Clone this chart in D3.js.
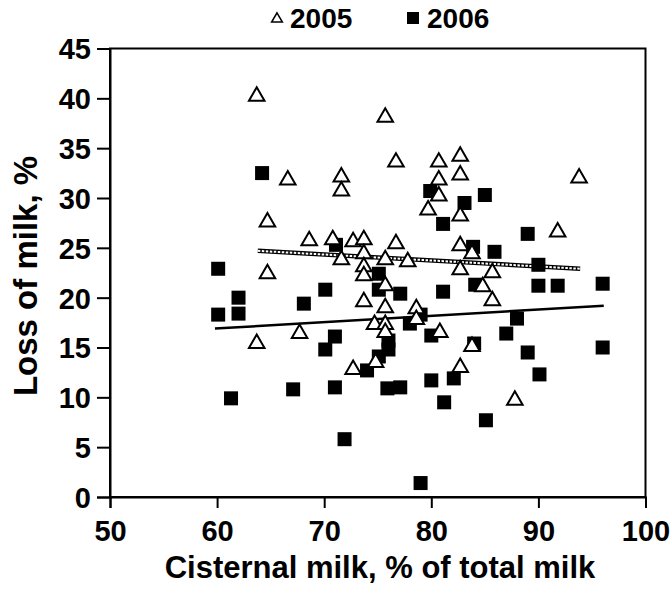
<!DOCTYPE html>
<html>
<head>
<meta charset="utf-8">
<script src="https://cdn.jsdelivr.net/npm/d3@7"></script>
<style>
  body { margin: 0; background: #fff; }
  text { font-family: "Liberation Sans", Arial, Helvetica, sans-serif; font-weight: bold; fill: #000; }
</style>
</head>
<body>
<svg width="672" height="589"></svg>
<script>

// 2005 (open triangles): cisternal milk %, loss of milk %
const x2005 = [63.7, 75.7, 76.7, 66.6, 71.6, 71.6, 64.7, 68.6, 70.8, 72.7,
               73.7, 76.7, 71.6, 73.7, 75.7, 77.8, 73.7, 73.7, 64.7, 75.7,
               73.7, 75.7, 78.6, 78.6, 74.7, 75.7, 75.7, 80.8, 67.7, 63.7,
               74.8, 72.7, 80.7, 82.7, 82.7, 80.7, 80.7, 79.7, 82.7, 93.8,
               91.8, 82.7, 83.8, 82.7, 85.7, 84.8, 85.7, 83.8, 82.7, 87.8];
const y2005 = [40.2, 38.1, 33.6, 31.8, 32.1, 30.7, 27.6, 25.7, 25.8, 25.6,
               25.8, 25.4, 23.8, 24.4, 23.8, 23.6, 23.1, 22.2, 22.4, 21.2,
               19.6, 19.0, 18.9, 17.8, 17.3, 17.3, 16.5, 16.5, 16.4, 15.4,
               13.5, 12.8, 33.6, 34.2, 32.3, 31.8, 30.2, 28.8, 28.2, 32.0,
               26.6, 25.2, 24.4, 22.8, 22.5, 21.1, 19.7, 15.1, 13.0, 9.7];

// 2006 (filled squares)
const x2006 = [64.2, 71.1, 60.1, 75.1, 79.9, 83.1, 85.0, 81.1, 89.0, 83.9,
               85.9, 90.0, 96.0, 90.0, 91.8, 84.1, 81.1, 77.1, 75.1, 70.1,
               62.0, 62.0, 60.1, 68.1, 71.0, 70.1, 76.0, 76.0, 75.1, 74.0,
               79.0, 78.0, 80.0, 88.0, 87.0, 84.0, 89.0, 96.0, 90.1, 80.0,
               82.1, 67.1, 71.0, 75.9, 77.1, 61.3, 81.2, 85.1, 71.9, 79.0];
const y2006 = [32.5, 25.3, 22.9, 22.4, 30.7, 29.5, 30.3, 27.4, 26.4, 25.1,
               24.6, 23.3, 21.4, 21.2, 21.2, 21.3, 20.6, 20.4, 20.8, 20.8,
               20.0, 18.4, 18.3, 19.4, 16.1, 14.8, 15.7, 14.8, 14.1, 12.7,
               18.3, 17.4, 16.2, 17.9, 16.4, 15.4, 14.5, 15.0, 12.3, 11.7,
               11.9, 10.8, 11.0, 10.9, 11.0, 9.9, 9.5, 7.7, 5.8, 1.4];

// fitted lines, end points
const trendX2005 = [63.8, 93.9];
const trendY2005 = [24.7, 22.9];
const trendX2006 = [59.8, 96.1];
const trendY2006 = [16.9, 19.2];

const xTicks = [50, 60, 70, 80, 90, 100];
const yTicks = [0, 5, 10, 15, 20, 25, 30, 35, 40, 45];

const svg = d3.select("svg");

const x = d3.scaleLinear().domain([50, 100]).range([110, 645.5]);
const y = d3.scaleLinear().domain([0, 45]).range([497, 48.5]);

// frame
svg.append("rect")
  .attr("x", x(50)).attr("y", y(45))
  .attr("width", x(100) - x(50)).attr("height", y(0) - y(45))
  .style("fill", "none").style("stroke", "#000").style("stroke-width", 2)

const xAxis = svg.append("g")
  .attr("transform", `translate(0,${y(0)})`)
  .call(d3.axisBottom(x).tickValues(xTicks).tickSize(11).tickPadding(12))

const yAxis = svg.append("g")
  .attr("transform", `translate(${x(50)},0)`)
  .call(d3.axisLeft(y).tickValues(yTicks).tickSize(13).tickPadding(6))

for (const g of [xAxis, yAxis]) {
  g.select(".domain").style("stroke", "#000").style("stroke-width", 2)
  g.selectAll(".tick line").style("stroke", "#000").style("stroke-width", 2)
  g.selectAll(".tick text")
    .style("font-family", "'Liberation Sans', Arial, sans-serif")
    .style("font-weight", "bold").style("font-size", "29px").style("fill", "#000")
}
yAxis.selectAll(".tick text").attr("dy", "0.36em")

// axis titles
svg.append("text")
  .attr("x", 380).attr("y", 578)
  .attr("text-anchor", "middle")
  .style("font-size", "31px")
  .text("Cisternal milk, % of total milk")

svg.append("text")
  .attr("transform", "translate(37,276) rotate(-90)")
  .attr("text-anchor", "middle")
  .style("font-size", "33px")
  .text("Loss of milk, %")

// trend lines
const line = d3.line().x(d => x(d[0])).y(d => y(d[1]));
const t2005 = d3.zip(trendX2005, trendY2005);
const t2006 = d3.zip(trendX2006, trendY2006);

svg.append("path").datum(t2005).attr("d", line)
  .style("fill", "none").style("stroke", "#000").style("stroke-width", 4.5)
svg.append("path").datum(t2005).attr("d", line)
  .style("fill", "none").style("stroke", "#fff").style("stroke-width", 2)
  .style("stroke-dasharray", "2.5,1.5")

svg.append("path").datum(t2006).attr("d", line)
  .style("fill", "none").style("stroke", "#000").style("stroke-width", 2.5)

// points
const tri = d3.symbol().type(d3.symbolTriangle).size(105);
const sq = 14;

svg.selectAll(".p2006").data(d3.zip(x2006, y2006)).enter().append("rect")
  .attr("class", "p2006")
  .attr("x", d => x(d[0]) - sq / 2)
  .attr("y", d => y(d[1]) - sq / 2)
  .attr("width", sq).attr("height", sq)
  .style("fill", "#000")

svg.selectAll(".p2005").data(d3.zip(x2005, y2005)).enter().append("path")
  .attr("class", "p2005")
  .attr("d", tri)
  .attr("transform", d => `translate(${x(d[0])},${y(d[1])})`)
  .style("fill", "#fff").style("stroke", "#000").style("stroke-width", 2)

// legend
const legend = svg.append("g");
legend.append("path")
  .attr("d", d3.symbol().type(d3.symbolTriangle).size(50))
  .attr("transform", "translate(277,19)")
  .style("fill", "#fff").style("stroke", "#000").style("stroke-width", 1.5)
legend.append("text").attr("x", 290).attr("y", 28)
  .style("font-size", "28px").text("2005")
legend.append("rect").attr("x", 407).attr("y", 12).attr("width", 12).attr("height", 12)
  .style("fill", "#000")
legend.append("text").attr("x", 427).attr("y", 28)
  .style("font-size", "28px").text("2006")

</script>
</body>
</html>
